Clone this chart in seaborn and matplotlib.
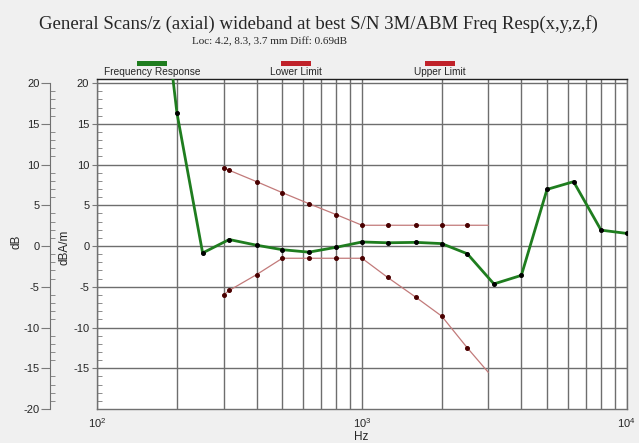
import matplotlib
matplotlib.use("Agg")
import matplotlib.pyplot as plt
from matplotlib.patches import Rectangle
from matplotlib.ticker import FixedLocator, LogLocator, NullFormatter
import pandas as pd
import seaborn as sns

# Third-octave response of the probe, in dB relative to the 1 kHz reference
freq_hz = [160, 200, 250, 315, 400, 500, 630, 800, 1000, 1250, 1600, 2000,
           2500, 3150, 4000, 5000, 6300, 8000, 10000]
response_db = [43.0, 16.3, -0.85, 0.8, 0.1, -0.45, -0.75, -0.15, 0.5, 0.4, 0.45,
               0.3, -0.95, -4.65, -3.6, 6.95, 7.9, 1.95, 1.55]

# Tolerance mask
limit_freq_hz = [300, 315, 400, 500, 630, 800, 1000, 1250, 1600, 2000, 2500, 3000]
upper_limit_db = [9.6, 9.3, 7.9, 6.55, 5.2, 3.85, 2.55, 2.55, 2.55, 2.55, 2.55, 2.55]
lower_limit_db = [-6.0, -5.45, -3.5, -1.5, -1.5, -1.5, -1.5, -3.85, -6.3, -8.6, -12.5, -15.5]

legend_labels = ["Frequency Response", "Lower Limit", "Upper Limit"]
title = "General Scans/z (axial) wideband at best S/N 3M/ABM Freq Resp(x,y,z,f)"
subtitle = "Loc: 4.2, 8.3, 3.7 mm Diff: 0.69dB"

sns.set_style("white")
plt.rcParams["font.family"] = ["Liberation Sans", "DejaVu Sans"]
plt.rcParams["mathtext.default"] = "regular"
plt.rcParams["axes.unicode_minus"] = False

W, H = 639, 443
DPI = 100
PT = 72 / DPI  # points per pixel
BG = "#f0f0f0"
GREEN = "#1f7d1f"
RED = "#c0222a"
LIMIT_LINE = "#c27a7a"
LIMIT_DOT = "#4a0000"
GRID = "#6e6e6e"
TICK = "#7a7a7a"

fig = plt.figure(figsize=(W / DPI, H / DPI), dpi=DPI, facecolor=BG)


def fx(px):
    return px / W


def fy(py):
    return 1 - py / H


left, right, top, bottom = 97.3, 626.7, 79.0, 409.0
ax = fig.add_axes([fx(left), fy(bottom), (right - left) / W, (bottom - top) / H])
ax.set_facecolor("white")

resp = pd.DataFrame({"Hz": freq_hz, "dB": response_db})
lim = pd.DataFrame({"Hz": limit_freq_hz, "upper": upper_limit_db, "lower": lower_limit_db})
dots = list(range(len(limit_freq_hz) - 1))

for col in ["lower", "upper"]:
    sns.lineplot(data=lim, x="Hz", y=col, ax=ax, color=LIMIT_LINE, linewidth=0.9,
                 marker="o", markersize=2.8, markerfacecolor=LIMIT_DOT,
                 markeredgecolor=LIMIT_DOT, markevery=dots, zorder=3)
sns.lineplot(data=resp, x="Hz", y="dB", ax=ax, color=GREEN, linewidth=2.0,
             marker="o", markersize=2.8, markerfacecolor="black",
             markeredgecolor="black", zorder=4)

ax.set_xscale("log")
ax.set_xlim(100, 10000)
ax.set_ylim(-20, 20.5)
ax.set_xlabel("")
ax.set_ylabel("")

ax.xaxis.set_major_locator(FixedLocator([100, 1000, 10000]))
ax.xaxis.set_minor_locator(LogLocator(base=10, subs=range(2, 10)))
ax.xaxis.set_minor_formatter(NullFormatter())
ax.yaxis.set_major_locator(FixedLocator(list(range(-15, 21, 5))))
ax.yaxis.set_minor_locator(FixedLocator([v for v in range(-20, 21) if v % 5]))

ax.grid(True, which="both", axis="x", color=GRID, linewidth=1.0)
ax.grid(True, which="major", axis="y", color=GRID, linewidth=1.0)
ax.set_axisbelow(True)

ax.tick_params(axis="x", which="major", direction="out", length=5 * PT, color=TICK,
               labelsize=8, pad=2 * PT)
ax.tick_params(axis="x", which="minor", length=0)
ax.tick_params(axis="y", which="major", direction="out", length=5 * PT, color=TICK,
               labelsize=8, pad=3 * PT)
ax.tick_params(axis="y", which="minor", direction="in", length=5 * PT, color=TICK)

for side in ["left", "bottom", "right"]:
    ax.spines[side].set_color("#707070")
    ax.spines[side].set_linewidth(1.0)
ax.spines["top"].set_color("#202020")
ax.spines["top"].set_linewidth(1.0)

# Outer dB scale
ax2 = ax.twinx()
ax2.set_ylim(ax.get_ylim())
ax2.yaxis.tick_left()
ax2.spines["left"].set_visible(True)
ax2.spines["left"].set_position(("outward", 47 * PT))
ax2.spines["left"].set_bounds(-20, 20)
ax2.spines["left"].set_color("#707070")
for side in ["right", "top", "bottom"]:
    ax2.spines[side].set_visible(False)
ax2.yaxis.set_major_locator(FixedLocator(list(range(-20, 21, 5))))
ax2.yaxis.set_minor_locator(FixedLocator([v for v in range(-20, 21) if v % 5]))
ax2.tick_params(axis="y", which="major", direction="out", length=9 * PT, color=TICK,
                labelsize=8, pad=1.5 * PT)
ax2.tick_params(axis="y", which="minor", direction="in", length=5 * PT, color=TICK)
ax2.tick_params(axis="y", which="both", left=True, right=False, labelleft=True,
                labelright=False)

fig.text(fx(17), fy(242), "dB", rotation=90, ha="center", va="center", fontsize=8.5)
fig.text(fx(65), fy(247), "dBA/m", rotation=90, ha="center", va="center", fontsize=8.5)
fig.text(fx(361.5), fy(437), "Hz", ha="center", va="center", fontsize=8.5)

fig.text(fx(318), fy(29), title, ha="center", va="baseline",
         family=["Liberation Serif", "DejaVu Serif"], fontsize=13.5)
fig.text(fx(270), fy(44.5), subtitle, ha="center", va="baseline",
         family=["Liberation Serif", "DejaVu Serif"], fontsize=8)

# Legend: swatch above each label
legend_centres = [152, 296, 440]
legend_colours = [GREEN, RED, RED]
for cx, label, colour in zip(legend_centres, legend_labels, legend_colours):
    fig.patches.append(Rectangle((fx(cx - 15), fy(66.3)), 30 / W, 5.5 / H,
                                 transform=fig.transFigure, facecolor=colour,
                                 edgecolor="none"))
    fig.text(fx(cx), fy(75), label, ha="center", va="baseline", fontsize=7.3)

fig.savefig("out.png", dpi=DPI, facecolor=BG)
